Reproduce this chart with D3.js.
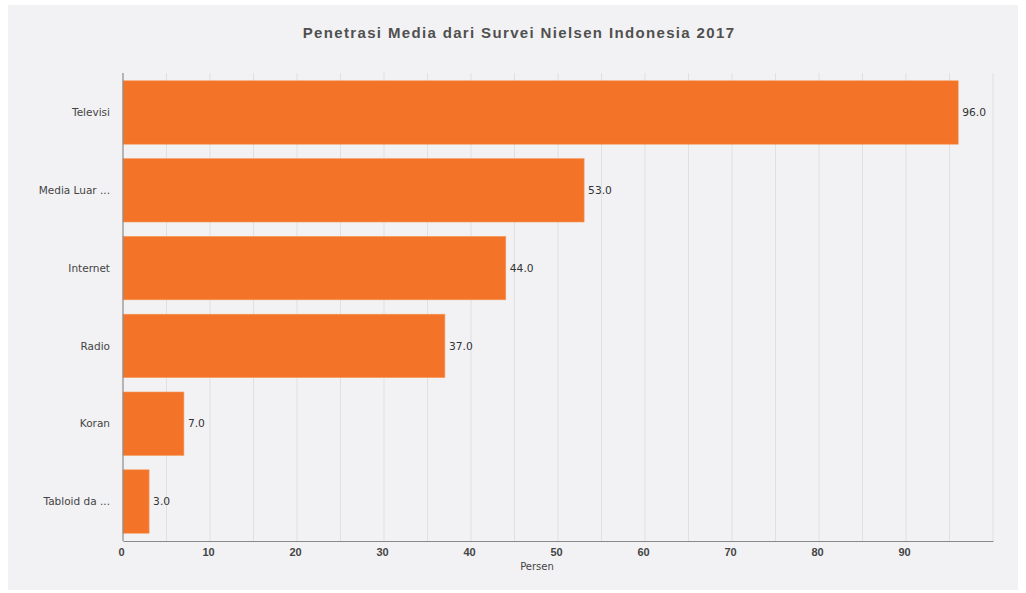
<!DOCTYPE html>
<html>
<head>
<meta charset="utf-8">
<title>Penetrasi Media</title>
<style>
  body { margin: 0; background: #fff; }
  svg { display: block; }
</style>
</head>
<body>
<div id="chart"></div>
<script src="https://cdn.jsdelivr.net/npm/d3@7/dist/d3.min.js"></script>
<script>
const categories = ['Televisi', 'Media Luar ...', 'Internet', 'Radio', 'Koran', 'Tabloid da ...'];
const values = [96.0, 53.0, 44.0, 37.0, 7.0, 3.0];
const tickLabels = [0, 10, 20, 30, 40, 50, 60, 70, 80, 90];
const gridValues = d3.range(5, 101, 5);

const svgWidth = 1026, svgHeight = 593;
const margin = {top: 73, right: 33, bottom: 52, left: 123};

const svg = d3.select('#chart').append('svg')
  .attr('width', svgWidth)
  .attr('height', svgHeight);

svg.append('rect')
  .attr('x', 8).attr('y', 5)
  .attr('width', 1010).attr('height', 585)
  .attr('fill', '#f2f2f4');

svg.append('text')
  .attr('x', 519).attr('y', 38)
  .attr('text-anchor', 'middle')
  .style('font-family', '"Liberation Sans", Arial, sans-serif')
  .style('font-weight', 'bold')
  .style('font-size', '15px')
  .style('letter-spacing', '1.35px')
  .style('fill', '#505050')
  .text('Penetrasi Media dari Survei Nielsen Indonesia 2017');

const x = d3.scaleLinear().domain([0, 100]).range([margin.left, svgWidth - margin.right]);
const y = d3.scaleBand().domain(categories)
  .range([margin.top, svgHeight - margin.bottom])
  .paddingInner(0.185).paddingOuter(0.1);

// grid
svg.append('g').selectAll('line')
  .data(gridValues)
  .join('line')
  .attr('x1', d => x(d)).attr('x2', d => x(d))
  .attr('y1', margin.top).attr('y2', svgHeight - margin.bottom)
  .attr('stroke', '#e0e0e2').attr('stroke-width', 1);

// bars
svg.append('g').selectAll('rect')
  .data(categories)
  .join('rect')
  .attr('x', x(0))
  .attr('y', d => y(d))
  .attr('width', (d, i) => x(values[i]) - x(0))
  .attr('height', y.bandwidth())
  .attr('fill', '#f37328')
  .attr('stroke', '#f59a5c')
  .attr('stroke-width', 0.6);

// value labels
svg.append('g').selectAll('text')
  .data(categories)
  .join('text')
  .attr('x', (d, i) => x(values[i]) + 4)
  .attr('y', d => y(d) + y.bandwidth() / 2)
  .attr('dy', '0.35em')
  .style('font-family', '"DejaVu Sans", sans-serif')
  .style('font-size', '10.7px')
  .style('fill', '#333')
  .text((d, i) => values[i].toFixed(1));

// y axis labels
svg.append('g').selectAll('text')
  .data(categories)
  .join('text')
  .attr('x', margin.left - 13)
  .attr('y', d => y(d) + y.bandwidth() / 2)
  .attr('dy', '0.35em')
  .attr('text-anchor', 'end')
  .style('font-family', '"DejaVu Sans", sans-serif')
  .style('font-size', '10.5px')
  .style('fill', '#444')
  .text(d => d);

// axis lines
const yBottom = svgHeight - margin.bottom;
svg.append('line')
  .attr('x1', margin.left).attr('x2', margin.left)
  .attr('y1', margin.top).attr('y2', yBottom)
  .attr('stroke', '#8a8a8a').attr('stroke-width', 1.2);

const xAxis = d3.axisBottom(x).tickValues(tickLabels).tickSize(0).tickPadding(7);
const gx = svg.append('g')
  .attr('transform', 'translate(0,' + yBottom + ')')
  .call(xAxis);
gx.select('.domain').attr('stroke', '#8a8a8a').attr('stroke-width', 1.2);
gx.selectAll('text')
  .attr('dx', -2)
  .style('font-family', '"Liberation Sans", Arial, sans-serif')
  .style('font-weight', 'bold')
  .style('font-size', '11px')
  .style('fill', '#444');

svg.append('text')
  .attr('x', (x(0) + x(100)) / 2 - 21).attr('y', 570)
  .attr('text-anchor', 'middle')
  .style('font-family', '"DejaVu Sans", sans-serif')
  .style('font-size', '10px')
  .style('fill', '#444')
  .text('Persen');
</script>
</body>
</html>
